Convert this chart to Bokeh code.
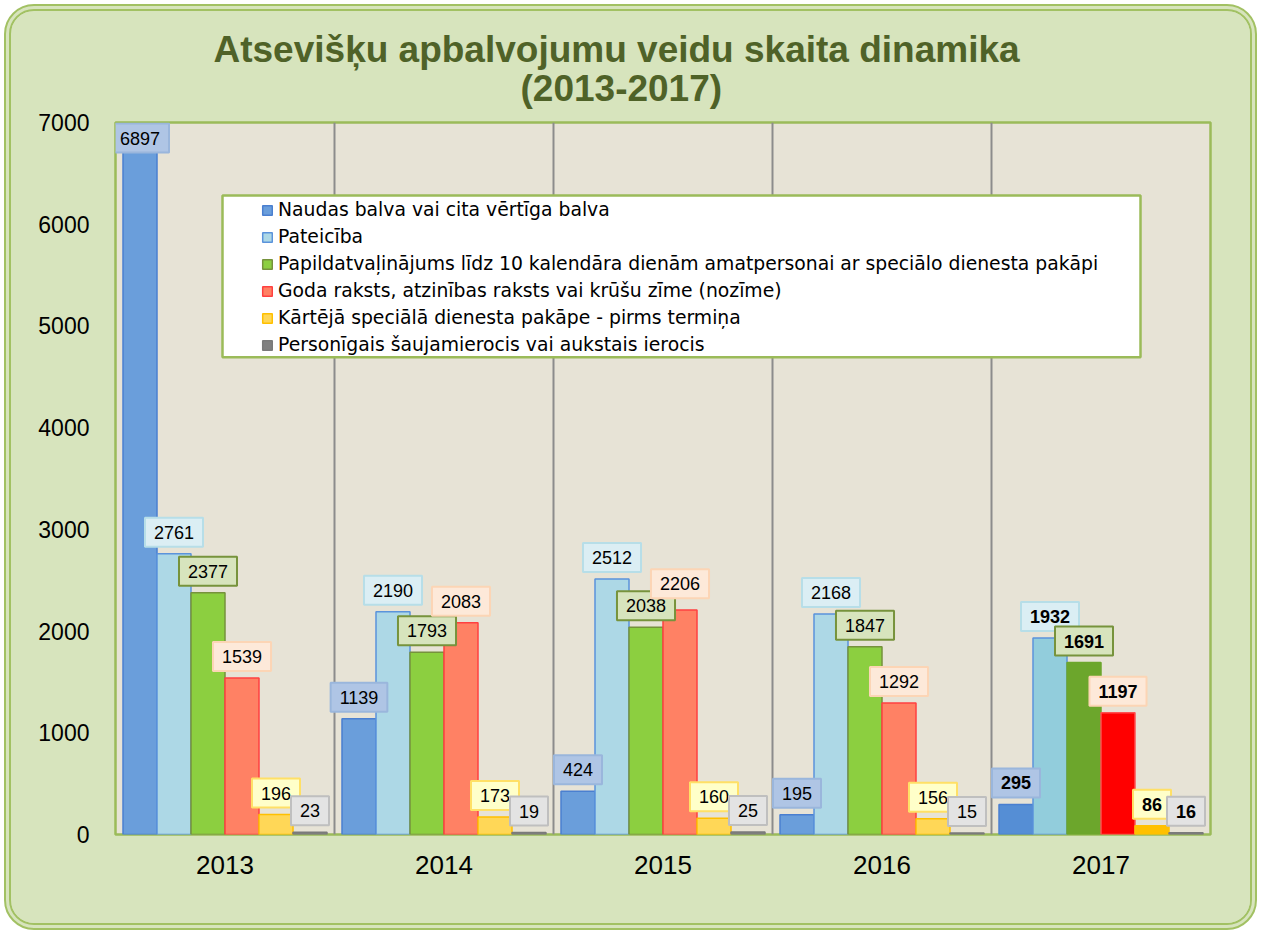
from bokeh.plotting import figure
from bokeh.models import FixedTicker, Label, Legend, LegendItem, BoxAnnotation, ColumnDataSource, Title
from bokeh.embed import file_html
from bokeh.resources import INLINE

# ---------------- data ----------------
years = ["2013", "2014", "2015", "2016", "2017"]
series_names = [
    "Naudas balva vai cita vērtīga balva",
    "Pateicība",
    "Papildatvaļinājums līdz 10 kalendāra dienām amatpersonai ar speciālo dienesta pakāpi",
    "Goda raksts, atzinības raksts vai krūšu zīme (nozīme)",
    "Kārtējā speciālā dienesta pakāpe - pirms termiņa",
    "Personīgais šaujamierocis vai aukstais ierocis",
]
naudas_balva = [6897, 1139, 424, 195, 295]
pateiciba = [2761, 2190, 2512, 2168, 1932]
papildatvalinajums = [2377, 1793, 2038, 1847, 1691]
goda_raksts = [1539, 2083, 2206, 1292, 1197]
kartejaa_pakape = [196, 173, 160, 156, 86]
personigais_ierocis = [23, 19, 25, 15, 16]
y_ticks = [0, 1000, 2000, 3000, 4000, 5000, 6000, 7000]
title_lines = ["Atsevišķu apbalvojumu veidu skaita dinamika", "(2013-2017)"]

series_values = [naudas_balva, pateiciba, papildatvalinajums, goda_raksts,
                 kartejaa_pakape, personigais_ierocis]

# ---------------- style ----------------
bar_fill = ["#6a9edb", "#add8e6", "#8ccf40", "#ff8164", "#ffd757", "#808080"]
bar_fill_last = ["#558ed5", "#92cddc", "#6ca62c", "#ff0000", "#ffc000", "#808080"]
bar_line = ["#4a7fd0", "#5b93db", "#76923c", "#ff4040", "#ffc000", "#7a7a7a"]
bar_line_last = ["#4a7fd0", "#5b93db", "#6ca62c", "#ff5050", "#ffc000", "#7a7a7a"]
lab_fill = ["#afc5e5", "#dbeef4", "#d7e4bd", "#fde9d9", "#ffffc9", "#e3e3e3"]
lab_line = ["#9ab6dc", "#b7dee8", "#77933c", "#fcd5b5", "#ffe066", "#bfbfbf"]

FONT = "Liberation Sans"
LEG_FONT = "DejaVu Sans"
OX, OY = 11, 11                      # canvas origin on the page (margin + border)
W, H = 1253, 926
FL, FR, FT, FB = 115 - OX, 1210 - OX, 122 - OY, 834 - OY   # plot frame in canvas px
FW, FH = FR - FL, FB - FT
YMAX = 7000
NCAT = len(years)
cat_px = FW / NCAT
bw = 34 / cat_px

p = figure(width=W, height=H, x_range=(0, NCAT), y_range=(0, YMAX), title=None,
           output_backend="svg", toolbar_location=None,
           min_border_left=FL, min_border_right=W - FR,
           min_border_top=FT, min_border_bottom=H - FB)
p.border_fill_color = "#d7e4bd"
p.background_fill_color = "#e7e3d6"
p.outline_line_color = "#9bbb59"
p.outline_line_width = 2.5
p.styles = {"margin": "4px 4px 0px 4px", "border": "7px double #a2c163",
            "border-radius": "30px", "overflow": "hidden",
            "background-color": "#d7e4bd"}

# axes
p.xaxis.ticker = FixedTicker(ticks=[i + 0.5 for i in range(NCAT)])
p.xaxis.major_label_overrides = {i + 0.5: y for i, y in enumerate(years)}
p.yaxis.ticker = FixedTicker(ticks=y_ticks)
for ax in (p.xaxis, p.yaxis):
    ax.axis_line_color = None
    ax.major_tick_line_color = None
    ax.minor_tick_line_color = None
    ax.major_tick_out = 0
    ax.major_tick_in = 0
    ax.major_label_text_font = FONT
    ax.major_label_text_color = "#000000"
p.xaxis.major_label_text_font_size = "26px"
p.yaxis.major_label_text_font_size = "23px"
p.xaxis.major_label_standoff = 21
p.yaxis.major_label_standoff = 26

p.ygrid.grid_line_color = None
p.xgrid.ticker = FixedTicker(ticks=list(range(1, NCAT)))
p.xgrid.grid_line_color = "#8c8c8c"
p.xgrid.grid_line_width = 2

# bars
renderers = []
for k, vals in enumerate(series_values):
    xs = [i + 0.5 + (k - 2.5) * bw for i in range(NCAT)]
    fills = [bar_fill[k]] * (NCAT - 1) + [bar_fill_last[k]]
    lines = [bar_line[k]] * (NCAT - 1) + [bar_line_last[k]]
    src = ColumnDataSource(dict(x=xs, top=vals, fill=fills, line=lines))
    r = p.vbar(x="x", top="top", bottom=0, width=bw, source=src,
               fill_color="fill", line_color="line", line_width=1.5)
    renderers.append(r)

# data labels (series order; a label that would hide too much of an earlier one is lifted)
px_per_unit = FH / YMAX
BOX_H = 30
GAP = 7
placed = []   # (left, right, bottom, top) in frame px, y upwards
for k, vals in enumerate(series_values):
    for i, v in enumerate(vals):
        xc = i + 0.5 + (k - 2.5) * bw
        cx = xc * cat_px
        bw_px = len(str(v)) * 10 + 18
        top_px = v * px_per_unit
        yoff = GAP
        if top_px + GAP + BOX_H > FH:
            yoff = FH - BOX_H - top_px
        l, r_ = cx - bw_px / 2, cx + bw_px / 2
        for (pl, pr, pb, pt) in placed:
            x_ov = min(r_, pr) - max(l, pl)
            b = top_px + yoff
            y_ov = min(b + BOX_H, pt) - max(b, pb)
            if x_ov > 12 and y_ov > 10:
                yoff += y_ov - 8
        b = top_px + yoff
        placed.append((l, r_, b, b + BOX_H))
        kw = dict(x=xc, y=v, text=str(v),
                  text_align="center", text_baseline="bottom",
                  y_offset=yoff, text_font=FONT, text_font_size="18px",
                  text_color="#000000",
                  text_font_style="bold" if i == NCAT - 1 else "normal",
                  background_fill_color=lab_fill[k], background_fill_alpha=1.0,
                  border_line_color=lab_line[k], border_line_width=2)
        lab = Label(**kw)
        try:
            lab.padding = dict(left=9, right=9, top=8, bottom=8)
        except Exception:
            try:
                lab.padding = (9, 8)
            except Exception:
                lab.padding = 8
        p.add_layout(lab)

# legend box
def fx(px):  # frame px -> data x
    return px / cat_px
def fy(py_from_top):  # frame px from top -> data y
    return (FH - py_from_top) / px_per_unit

box = BoxAnnotation(left=fx(107), right=fx(1025), top=fy(73), bottom=fy(234.7),
                    fill_color="#ffffff", fill_alpha=1.0,
                    line_color="#9bbb59", line_width=2.5, line_alpha=1.0)
p.add_layout(box)

items = [LegendItem(label=n, renderers=[r], index=0) for n, r in zip(series_names, renderers)]
legend = Legend(items=items, location=(146, 476), orientation="vertical",
                label_text_font=LEG_FONT, label_text_font_size="18.8px",
                label_text_color="#000000",
                label_height=27, glyph_height=12, glyph_width=12,
                label_standoff=5, spacing=0, padding=0, margin=0,
                background_fill_alpha=0, border_line_alpha=0)
p.add_layout(legend, "center")

# title (two lines; later-added title sits further from the frame)
t2 = Title(text=title_lines[1], align="left", offset=520 - 115, standoff=28,
           text_font=FONT, text_font_size="37px", text_font_style="bold",
           text_color="#4f6228")
t1 = Title(text=title_lines[0], align="left", offset=213 - 115, standoff=0,
           text_font=FONT, text_font_size="37px", text_font_style="bold",
           text_color="#4f6228")
try:
    t1.standoff = -36
except Exception:
    t2.standoff = 16
p.add_layout(t2, "above")
p.add_layout(t1, "above")

open("out.html", "w").write(file_html(p, INLINE))
